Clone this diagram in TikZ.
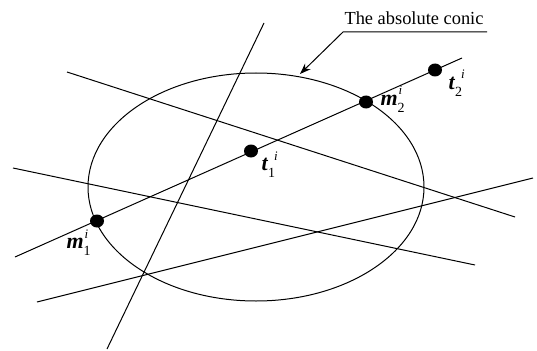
\documentclass[tikz,border=0pt]{standalone}
\usepackage{amsmath}
\usepackage{fontspec}
\setmainfont{Liberation Serif}
\usetikzlibrary{arrows.meta, shapes.geometric}

% nhan cua diem: chu dam nghieng, chi so duoi, chi so tren i
\newcommand{\ptlabel}[3][1pt]{{\fontsize{22}{24}\selectfont\textbf{\textit{#2}}}\rlap{\hspace{#1}\raisebox{10pt}{\fontsize{13}{13}\selectfont\textit{i}}}\raisebox{-7pt}{\fontsize{14}{14}\selectfont #3}}

\tikzset{
    dot/.style={ellipse, fill=black, inner sep=0pt, minimum width=14pt, minimum height=13pt},
    lbl/.style={anchor=base west, inner sep=0pt}
}

\begin{document}
\begin{tikzpicture}[x=1pt, y=-1pt, line width=1pt, >={Stealth[length=11pt, width=8pt]},
    font=\fontsize{18.4}{22}\selectfont]
    \useasboundingbox (0,0) rectangle (537,350);
    % --- CONIC TUYET DOI ---
    \coordinate (O) at (256,187);
    \draw (O) ellipse (168 and 114);
    
    % Cac diem dau mut cua cac duong thang
    \coordinate (A1) at (264,23);  \coordinate (A2) at (107,349);
    \coordinate (B1) at (15,257);  \coordinate (B2) at (462,58);
    \coordinate (C1) at (67,72);   \coordinate (C2) at (515,217);
    \coordinate (D1) at (13,168);  \coordinate (D2) at (475,265);
    \coordinate (E1) at (37,302);  \coordinate (E2) at (533,178);
    
    % Ve cac duong thang
    \draw (A1) -- (A2);
    \draw (B1) -- (B2);
    \draw (C1) -- (C2);
    \draw (D1) -- (D2);
    \draw (E1) -- (E2);
    
    % Cac diem tren duong thang B
    \node[dot] (m1) at (97,221) {};
    \node[dot] (t1) at (251,151) {};
    \node[dot] (m2) at (366,102) {};
    \node[dot] (t2) at (435,70) {};
    
    % Nhan cac diem
    \node[lbl] (m1l) at (66,248) {\ptlabel{m}{1}};
    \node[lbl] (t1l) at (261,170) {\ptlabel[6pt]{t}{1}};
    \node[lbl] (m2l) at (380,105) {\ptlabel{m}{2}};
    \node[lbl] (t2l) at (448,89) {\ptlabel[6pt]{t}{2}};
    
    % Chu thich va mui ten
    \node[anchor=base] (title) at (414,25) {The absolute conic};
    \coordinate (U1) at (487,32);
    \coordinate (U2) at (343,32);
    \coordinate (tip) at (300,74);
    \draw[->] (U1) -- (U2) -- (tip);
    
\end{tikzpicture}
\end{document}
